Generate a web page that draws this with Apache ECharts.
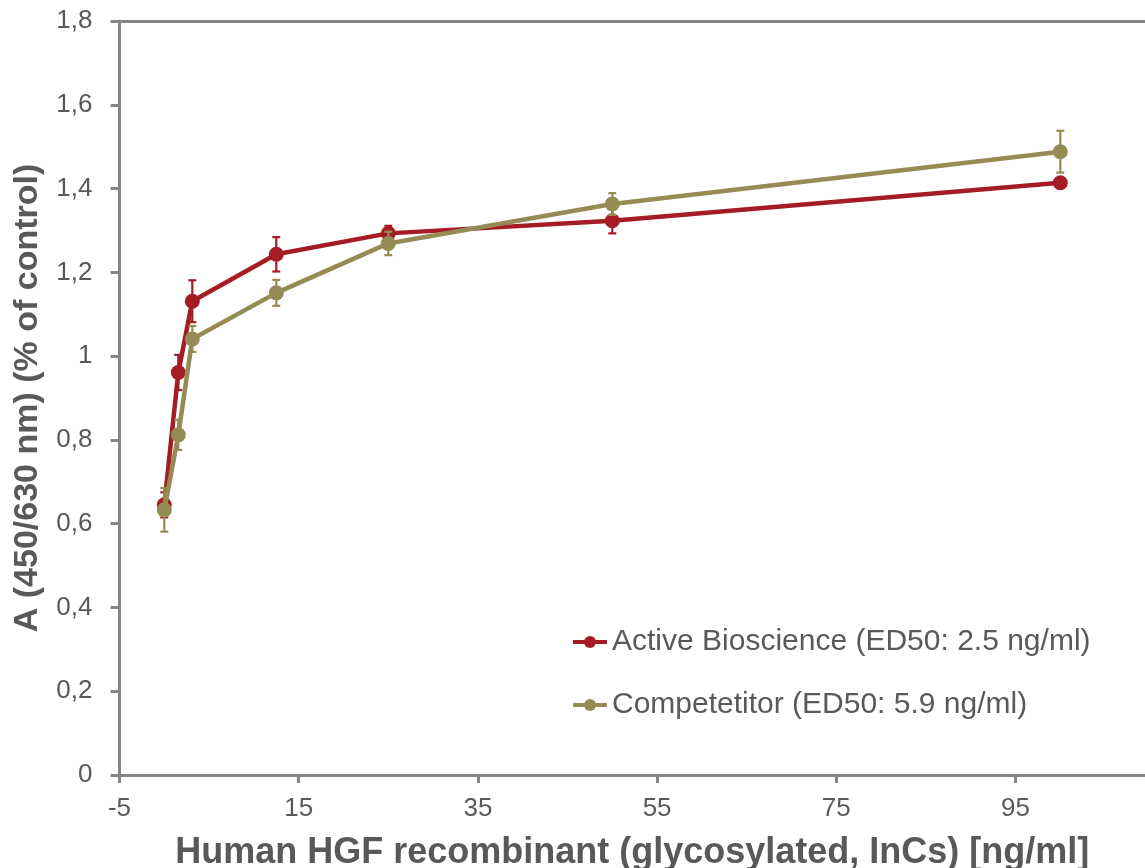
<!DOCTYPE html>
<html>
<head>
<meta charset="utf-8">
<script src="https://cdn.jsdelivr.net/npm/echarts@6/dist/echarts.min.js"></script>
<style>
html,body{margin:0;padding:0;background:#fff;}
#chart{width:1145px;height:868px;}
</style>
</head>
<body>
<div id="chart"></div>
<script>
// ---- data ----
const concentrations = [0, 1.5625, 3.125, 12.5, 25, 50, 100];
const activeValues = [0.645, 0.961, 1.131, 1.243, 1.293, 1.323, 1.414];
const activeErrors = [0.03, 0.042, 0.05, 0.041, 0.018, 0.03, 0.01];
const competitorValues = [0.633, 0.812, 1.041, 1.151, 1.269, 1.363, 1.488];
const competitorErrors = [0.052, 0.036, 0.031, 0.031, 0.028, 0.026, 0.05];
const seriesNames = ['Active Bioscience (ED50: 2.5 ng/ml)', 'Competetitor (ED50: 5.9 ng/ml)'];
const xAxisTitle = 'Human HGF recombinant (glycosylated, InCs) [ng/ml]';
const yAxisTitle = 'A (450/630 nm) (% of control)';

const RED = '#A61C24';
const OLIVE = '#958B55';
const AXIS = '#868686';
const TEXT = '#595959';
const FONT = "'Liberation Sans', Arial, sans-serif";

function errItem(color) {
  return function (params, api) {
    const x = api.value(0), y = api.value(1), e = api.value(2);
    const top = api.coord([x, y + e]);
    const bot = api.coord([x, y - e]);
    const hw = 4;
    const st = { stroke: color, lineWidth: 2.2 };
    return {
      type: 'group',
      children: [
        { type: 'line', shape: { x1: top[0], y1: top[1], x2: bot[0], y2: bot[1] }, style: st },
        { type: 'line', shape: { x1: top[0] - hw, y1: top[1], x2: top[0] + hw, y2: top[1] }, style: st },
        { type: 'line', shape: { x1: bot[0] - hw, y1: bot[1], x2: bot[0] + hw, y2: bot[1] }, style: st }
      ]
    };
  };
}

const chart = echarts.init(document.getElementById('chart'));
chart.setOption({
  animation: false,
  backgroundColor: '#fff',
  textStyle: { fontFamily: FONT },
  grid: { left: 119.5, right: 0, top: 21, bottom: 93, containLabel: false, outerBoundsMode: 'none' },
  legend: {
    orient: 'vertical',
    left: 566,
    top: 622,
    itemWidth: 34,
    itemHeight: 15,
    itemGap: 33,
    lineStyle: { width: 4 },
    textStyle: { fontSize: 30, color: TEXT, fontFamily: FONT, lineHeight: 30 },
    data: seriesNames
  },
  xAxis: [{
    type: 'value',
    min: -5,
    max: 109.45,
    interval: 20,
    name: xAxisTitle,
    nameLocation: 'middle',
    nameGap: 60,
    nameTextStyle: { fontSize: 36, fontWeight: 'bold', color: TEXT, fontFamily: FONT },
    axisLine: { show: true, onZero: false, lineStyle: { color: AXIS, width: 3 } },
    axisTick: { show: true, length: 8, lineStyle: { color: AXIS, width: 3 } },
    axisLabel: { fontSize: 26, color: TEXT, margin: 21, showMaxLabel: false, fontFamily: FONT },
    splitLine: { show: false }
  }, {
    type: 'value',
    position: 'top',
    min: -5,
    max: 109.45,
    axisLine: { show: true, onZero: false, lineStyle: { color: AXIS, width: 3 } },
    axisTick: { show: false },
    axisLabel: { show: false },
    splitLine: { show: false }
  }],
  yAxis: {
    type: 'value',
    min: 0,
    max: 1.8,
    interval: 0.2,
    name: yAxisTitle,
    nameLocation: 'middle',
    nameGap: 75,
    nameRotate: 90,
    nameTextStyle: { fontSize: 34, fontWeight: 'bold', color: TEXT, fontFamily: FONT },
    axisLine: { show: true, onZero: false, lineStyle: { color: AXIS, width: 3 } },
    axisTick: { show: true, length: 9, lineStyle: { color: AXIS, width: 3 } },
    axisLabel: {
      fontSize: 26, color: TEXT, margin: 27, fontFamily: FONT,
      formatter: v => String(Math.round(v * 10) / 10).replace('.', ',')
    },
    splitLine: { show: false }
  },
  series: [
    {
      type: 'line',
      name: seriesNames[0],
      data: concentrations.map((c, i) => [c, activeValues[i]]),
      symbol: 'circle',
      symbolSize: 15,
      lineStyle: { color: RED, width: 4.5 },
      itemStyle: { color: RED },
      z: 3
    },
    {
      type: 'line',
      name: seriesNames[1],
      data: concentrations.map((c, i) => [c, competitorValues[i]]),
      symbol: 'circle',
      symbolSize: 15,
      lineStyle: { color: OLIVE, width: 4.5 },
      itemStyle: { color: OLIVE },
      z: 5
    },
    {
      type: 'custom',
      name: 'activeErrorBars',
      renderItem: errItem(RED),
      data: concentrations.map((c, i) => [c, activeValues[i], activeErrors[i]]),
      encode: { x: 0, y: 1 },
      itemStyle: { color: RED },
      z: 2,
      silent: true
    },
    {
      type: 'custom',
      name: 'competitorErrorBars',
      renderItem: errItem(OLIVE),
      data: concentrations.map((c, i) => [c, competitorValues[i], competitorErrors[i]]),
      encode: { x: 0, y: 1 },
      itemStyle: { color: OLIVE },
      z: 4,
      silent: true
    }
  ]
});
</script>
</body>
</html>
